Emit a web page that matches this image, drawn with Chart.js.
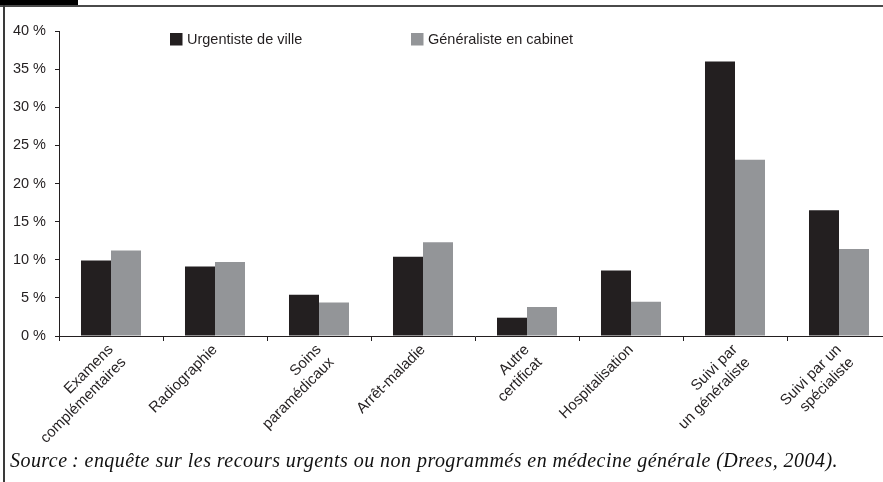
<!DOCTYPE html>
<html>
<head>
<meta charset="utf-8">
<script src="https://cdn.jsdelivr.net/npm/chart.js@4/dist/chart.umd.min.js"></script>
<style>
  html, body { margin: 0; padding: 0; background: #fff; overflow: hidden; width: 883px; height: 482px; }
  #wrap { position: relative; width: 883px; height: 482px; overflow: hidden; }
  #tab { position: absolute; left: 0; top: 0; width: 78px; height: 5px; background: #000; }
  #topline { position: absolute; left: 0; top: 5px; width: 883px; height: 2px; background: #4a4a4a; }
  #leftline { position: absolute; left: 3px; top: 5px; width: 2px; height: 477px; background: #3a3a3a; }
  canvas { position: absolute; left: 0; top: 0; }
</style>
</head>
<body>
<div id="wrap">
  <canvas id="c" width="906" height="482"></canvas>
  <div id="tab"></div>
  <div id="topline"></div>
  <div id="leftline"></div>
</div>
<script>
const categories = [
  ["Examens", "complémentaires"],
  "Radiographie",
  ["Soins", "paramédicaux"],
  "Arrêt-maladie",
  ["Autre", "certificat"],
  "Hospitalisation",
  ["Suivi par", "un généraliste"],
  ["Suivi par un", "spécialiste"]
];
const seriesNames = ["Urgentiste de ville", "Généraliste en cabinet"];
const urgentiste = [9.9, 9.1, 5.4, 10.4, 2.4, 8.6, 36.0, 16.5];
const generaliste = [11.2, 9.7, 4.4, 12.3, 3.8, 4.5, 23.1, 11.4];
const yTickValues = [0, 5, 10, 15, 20, 25, 30, 35, 40];
const sourceText = "Source\u202F: enquête sur les recours urgents ou non programmés en médecine générale (Drees, 2004).";

const BLACK = "#231f20";
const GREY = "#939598";
const FONT = "'Liberation Sans', Arial, sans-serif";

const legendPlugin = {
  id: "customLegend",
  afterDraw(chart) {
    const ctx = chart.ctx;
    const pos = [{ x: 170, y: 33 }, { x: 411, y: 33 }];
    ctx.save();
    ctx.font = "14.5px " + FONT;
    ctx.textBaseline = "middle";
    ctx.textAlign = "left";
    chart.data.datasets.forEach((ds, i) => {
      ctx.fillStyle = ds.backgroundColor;
      ctx.fillRect(pos[i].x, pos[i].y, 12.5, 12.5);
      ctx.fillStyle = BLACK;
      ctx.fillText(ds.label, pos[i].x + 17, pos[i].y + 6.5);
    });
    ctx.restore();
  }
};

const sourcePlugin = {
  id: "sourceNote",
  afterDraw(chart) {
    const ctx = chart.ctx;
    ctx.save();
    ctx.font = "italic 20px 'Liberation Serif', 'Times New Roman', serif";
    ctx.fillStyle = "#111";
    ctx.textBaseline = "alphabetic";
    ctx.textAlign = "left";
    const target = 828;
    const w = ctx.measureText(sourceText).width;
    if ("letterSpacing" in ctx) {
      ctx.letterSpacing = ((target - w) / sourceText.length).toFixed(3) + "px";
    }
    ctx.fillText(sourceText, 10, 467);
    ctx.restore();
  }
};

new Chart(document.getElementById("c"), {
  type: "bar",
  data: {
    labels: categories,
    datasets: [
      { label: seriesNames[0], data: urgentiste, backgroundColor: BLACK, borderWidth: 0 },
      { label: seriesNames[1], data: generaliste, backgroundColor: GREY, borderWidth: 0 }
    ]
  },
  options: {
    responsive: false,
    devicePixelRatio: 1,
    animation: false,
    layout: { padding: { left: 8, top: 31, right: 15, bottom: 0 } },
    datasets: { bar: { categoryPercentage: 0.577, barPercentage: 1.0 } },
    plugins: { legend: { display: false }, tooltip: { enabled: false } },
    scales: {
      x: {
        grid: { offset: true, drawOnChartArea: false, tickLength: 5, color: BLACK, lineWidth: 1 },
        border: { color: BLACK, width: 1 },
        ticks: {
          autoSkip: false, maxRotation: 45, minRotation: 45,
          font: { family: FONT, size: 15 }, color: BLACK, padding: 0
        },
        afterFit(s) { s.height = 146; }
      },
      y: {
        min: 0, max: 40,
        afterBuildTicks(s) { s.ticks = yTickValues.map(v => ({ value: v })); },
        grid: { drawOnChartArea: false, tickLength: 4, color: BLACK, lineWidth: 1 },
        border: { color: BLACK, width: 1 },
        ticks: {
          font: { family: FONT, size: 14.5 }, color: BLACK, padding: 9,
          callback: v => v + " %"
        },
        afterFit(s) { s.width = 51; }
      }
    }
  },
  plugins: [legendPlugin, sourcePlugin]
});
</script>
</body>
</html>
